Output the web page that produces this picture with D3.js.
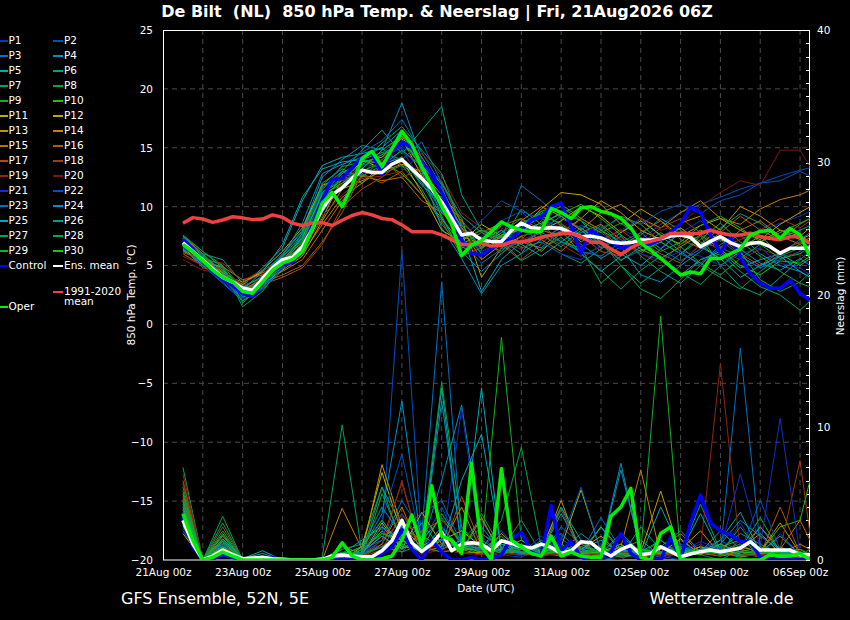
<!DOCTYPE html>
<html>
<head>
<meta charset="utf-8">
<script src="https://cdn.jsdelivr.net/npm/d3@7"></script>
<style>
  body { margin: 0; background: #000; }
  svg { display: block; font-family: "DejaVu Sans", sans-serif; }
  .pre { white-space: pre; }
</style>
</head>
<body>
<svg id="chart" width="850" height="620"></svg>
<script>
// forecast run: first step is 21Aug 12Z, 6-hourly to 06Sep 06Z
const HOUR = 3600e3;
const runStart = Date.UTC(2026, 7, 21, 12);
const axisStart = new Date(Date.UTC(2026, 7, 21, 0));
const axisEnd = new Date(Date.UTC(2026, 8, 6, 6));

const tempTicks = [-20, -15, -10, -5, 0, 5, 10, 15, 20, 25];
const precipTicks = [0, 10, 20, 30, 40];
const dateTickDays = [0, 2, 4, 6, 8, 10, 12, 14, 16];
const dateTickLabels = ["21Aug 00z", "23Aug 00z", "25Aug 00z", "27Aug 00z", "29Aug 00z",
  "31Aug 00z", "02Sep 00z", "04Sep 00z", "06Sep 00z"];

// hours after runStart for the 6-hourly series and for the 12-hourly members
const stepHours = d3.range(64).map(i => i * 6);
const memberHours = d3.range(0, 373, 12).concat([378]);

// 850 hPa temperature (°C), 6-hourly
const controlTemp = [7.2,6.4,5.4,4.5,3.8,3.3,2.6,2.4,3.5,4.5, 5.05,5.3,6.3,8.4,10.6,12.3,12.4,13.3,14.2,14.5, 12.8,14.7,
  15.5,15.0,13.8,12.8,11.2,9.4,7.15,6.04,5.9,6.46, 6.9,7.3,8.0,8.87,9.15,10.0,10.3,8.3,6.05,8.0,
  7.4,7.0,6.5,6.6,6.83,6.83,7.2,7.85,8.55,10.0, 9.5,7.6,6.1,7.4,5.7,4.3,3.5,3.07,3.07,3.77, 2.64,2.08];
const meanTemp = [6.94,6.2,5.47,4.7,4.0,3.6,3.1,2.9,3.9,4.8, 5.5,5.7,6.6,8.1,9.8,11.0,11.6,12.4,13.1,12.9, 12.9,13.6,
  14.0,13.2,12.4,11.5,10.4,9.0,7.6,7.75,7.17,7.03, 7.03,8.0,8.6,8.2,8.15,8.2,8.16,7.75,7.45,7.5,
  7.35,7.0,6.9,6.95,7.17,7.17,7.3,7.5,7.6,7.4, 6.6,7.05,7.45,6.95,6.6,6.9,6.95,6.6,6.04,6.46, 6.46,6.46];
const operTemp = [6.8,6.2,5.4,4.6,4.0,3.6,2.8,2.65,3.6,4.6, 5.2,5.5,6.2,8.1,10.3,11.2,10.0,11.8,14.1,14.7, 13.4,14.9,
  16.4,15.3,13.4,11.8,10.0,8.5,5.85,6.75,7.1,7.9, 8.7,8.3,8.0,7.9,7.9,9.85,9.5,9.0,9.9,10.0,
  9.6,9.4,9.0,8.2,6.9,6.3,5.6,4.9,4.2,4.45, 4.3,5.6,5.6,6.0,6.4,7.6,7.9,8.0,7.3,8.16, 7.6,5.75];
const climTemp = [8.6,9.07,8.95,8.67,8.87,9.15,9.05,8.9,8.95,9.3, 9.1,8.6,8.4,8.62,8.64,8.4,8.85,9.25,9.5,9.3,
  9.0,8.9,8.45,7.88,7.88,7.88,7.6,7.2,6.8,6.75, 6.88,6.65,6.72,7.0,7.03,7.15,7.4,7.58,7.72,7.74,
  7.45,7.0,6.95,6.4,5.95,6.5,6.9,7.05,7.3,7.72, 7.74,7.7,7.74,8.0,7.76,7.6,7.6,7.74,7.48,7.3, 7.2,7.45,7.45,6.9];

// precipitation (mm), 6-hourly
const controlPrecip = [3.2,1.0,0,0.1,0.4,0.2,0,0,0.1,0.2, 0,0,0,0,0,0,0,0,0,0, 0.5,1.0,
  2.3,0.8,0,1.5,0.6,0,0,0.2,0,0.1, 0.4,1.6,2.1,0.6,0.3,4.1,0.7,1.4,0.2,0,
  0.2,0.6,2.0,0.5,0,0,0,1.7,0.1,2.8, 4.9,2.8,2.2,1.9,1.4,1.4,0.2,0,0,0, 0,0];
const meanPrecip = [3.0,1.2,0,0.3,0.75,0.4,0.1,0.15,0.2,0.1,0.05,0,0,0,
  0.05,0.3,0.38,0.3,0.25,0.25,0.7,1.45,3.0,1.3, 0.65,1.2,2.1,0.7,1.2,1.3,1.2,0.7,1.45,1.25,
  1.0,0.9,1.2,0.95,0.5,0.7,1.38,1.3,0.7,0.3, 0.8,1.1,0.4,0.5,1.0,0.65,0.25,0.45,0.63,0.75,
  0.63,0.75,0.9,1.38,0.75,0.75,0.75,0.75,0.4,0.4];
const operPrecip = [3.5,1.5,0,0.2,0.6,0.3,0,0,0,0, 0,0,0,0,0,0.2,1.3,0.3,0,0, 0.1,0.3,
  1.5,3.4,1.0,5.6,1.8,1.5,0.5,7.3,1.0,0, 6.9,1.5,1.0,0.5,0.3,1.8,0.3,0.6,0.3,0.2,
  0.2,3.3,4.0,5.4,0.2,0,2.0,2.5,0,0, 0,0,0,0,0,0,0,0.4,0.3,0.3, 0.5,0];

// perturbed members P1..P30, 12-hourly plus a last 6-hour step
const memberTemp = [
  [7.2,5.8,4.3,2.8,3.9,5.6,7.5,11.5,12.8,13.5,14.2,15.0,13.0,10.5,7.0,6.5,7.8,8.5,9.0,8.2,7.4,7.0,8.1,7.3,6.5,7.8,8.8,7.5,6.8,7.9,8.6,9.2,9.6],
  [6.8,5.2,3.8,2.2,3.5,5.0,6.5,10.0,12.0,12.8,14.5,16.2,13.5,9.8,6.8,7.5,8.8,9.6,8.0,7.6,8.4,7.8,6.5,7.2,8.5,9.5,10.2,10.8,11.5,12.0,12.6,13.1,13.3],
  [6.5,5.0,3.5,2.0,3.2,4.8,6.2,9.5,11.8,13.2,13.0,14.0,15.5,12.0,8.5,6.0,7.2,11.8,10.5,9.0,8.2,6.8,5.5,6.3,7.0,6.0,5.2,6.5,5.8,4.8,5.5,6.2,6.8],
  [7.0,5.6,4.0,2.5,4.2,6.0,8.0,12.5,14.0,15.2,14.8,18.8,14.0,9.0,6.2,4.5,6.0,7.5,8.0,9.2,8.0,6.5,7.8,9.0,7.5,6.2,5.0,6.8,7.6,6.0,5.0,4.5,4.0],
  [6.6,5.4,4.5,3.3,4.8,6.5,10.5,13.5,14.2,14.5,15.0,13.5,12.5,9.5,7.8,2.8,5.5,7.0,6.5,8.0,6.0,4.5,5.8,7.0,5.5,4.2,5.5,6.2,4.8,5.5,6.0,5.0,5.6],
  [7.4,6.0,5.5,3.5,4.5,5.8,7.2,10.8,13.0,14.8,16.5,14.5,16.5,18.5,11.0,8.0,7.2,6.0,8.5,9.5,8.8,7.0,5.0,3.5,4.8,6.0,7.5,5.0,3.2,2.5,4.0,5.5,6.2],
  [7.6,6.2,5.0,3.0,3.6,5.2,6.8,11.0,12.5,13.0,12.8,13.5,11.5,8.5,6.5,7.2,8.0,6.5,7.0,6.0,5.2,6.4,7.5,5.8,4.5,3.5,5.0,4.0,3.0,4.5,5.8,6.5,7.0],
  [6.2,5.5,4.8,1.5,2.8,5.0,7.8,12.0,13.2,12.5,14.0,15.5,13.8,11.5,8.0,6.0,7.0,9.8,8.5,7.0,6.5,3.5,5.0,3.0,2.2,3.8,5.5,6.0,4.5,3.2,2.5,1.2,2.0],
  [7.3,5.9,4.0,2.0,3.0,4.6,7.0,10.2,12.6,12.0,13.2,14.2,12.0,10.8,8.8,7.0,6.2,8.0,9.2,8.6,7.0,8.0,9.2,8.5,7.0,6.0,7.2,8.6,7.0,5.8,4.5,3.5,3.2],
  [6.9,5.7,4.6,3.2,4.0,5.4,6.6,11.2,12.2,13.0,13.8,12.8,11.0,9.0,6.8,7.8,8.6,7.8,9.6,10.2,9.0,8.0,7.0,6.2,7.0,8.2,6.8,5.5,6.5,7.5,6.0,6.8,6.0],
  [6.4,5.3,4.4,3.4,4.6,6.2,8.2,11.8,12.5,14.0,13.2,14.0,11.2,8.0,7.0,8.5,7.5,6.8,8.0,8.8,10.0,9.2,7.8,8.8,7.6,6.8,8.0,7.2,6.5,7.0,8.0,7.2,7.6],
  [7.1,5.5,4.2,3.6,4.4,5.0,6.4,9.0,12.4,13.8,14.2,15.8,12.6,10.0,7.5,6.8,7.4,8.2,9.8,11.2,11.0,10.2,8.5,9.8,8.8,7.5,8.4,9.0,8.0,7.2,8.5,9.5,10.0],
  [6.7,5.0,3.9,2.6,3.4,4.6,5.8,8.8,11.5,12.2,13.0,13.6,13.0,11.0,9.0,4.0,6.5,7.5,6.2,7.8,9.0,10.5,9.5,8.0,7.2,8.6,9.2,8.0,10.0,9.2,8.0,7.5,8.2],
  [6.3,5.2,4.9,3.8,4.2,5.2,6.0,8.5,10.8,12.0,13.5,16.0,14.2,11.5,8.2,5.5,6.8,8.8,10.0,9.2,8.0,9.5,10.2,9.0,8.2,9.5,10.5,9.0,8.5,9.8,10.6,11.0,11.4],
  [7.5,6.0,4.4,3.0,3.8,4.5,5.5,8.0,10.5,12.6,12.2,12.5,10.5,9.5,8.2,6.5,7.6,8.0,7.2,6.2,7.8,8.5,7.2,6.0,7.5,8.2,7.0,6.5,8.0,8.8,7.5,6.8,7.4],
  [6.0,5.0,4.0,2.9,3.6,4.2,5.0,7.0,9.5,12.8,12.0,13.0,11.0,8.8,5.8,6.5,8.4,9.0,8.0,7.5,9.0,8.0,6.5,7.8,8.8,7.2,6.5,7.8,9.2,8.0,7.2,8.5,9.0],
  [6.5,4.8,4.5,3.1,3.4,4.0,4.8,6.8,10.0,11.5,12.5,13.8,12.8,10.6,7.2,8.0,7.0,5.5,6.8,8.5,7.6,6.2,5.8,7.0,6.0,5.2,6.8,7.4,6.0,5.0,6.2,7.0,6.5],
  [6.1,5.5,5.2,3.7,4.6,5.4,7.0,10.5,11.8,13.5,14.0,12.5,13.2,12.2,8.6,7.2,6.0,7.2,8.8,7.8,6.6,7.2,8.0,6.8,8.2,9.0,7.8,6.5,7.2,8.0,9.0,8.2,8.8],
  [5.8,5.0,4.7,3.3,4.0,5.0,6.0,9.2,11.0,12.4,12.6,13.0,14.5,12.6,9.5,8.2,7.0,6.4,7.6,6.8,5.8,6.6,7.4,6.0,5.2,6.8,7.5,6.2,5.5,6.4,5.8,6.0,5.4],
  [5.5,4.6,4.3,3.5,4.3,5.6,7.4,10.6,12.2,13.2,13.0,14.8,13.5,10.2,6.5,7.8,8.2,7.2,7.8,8.6,7.4,6.8,8.0,9.0,8.0,8.5,10.0,11.2,12.2,11.8,14.8,14.8,13.4],
  [7.0,5.3,3.7,2.4,3.3,5.5,7.2,11.0,12.9,13.4,14.6,15.2,13.6,11.2,8.0,6.2,7.0,8.2,7.0,6.0,5.5,6.8,7.2,6.0,5.5,6.2,5.8,5.0,6.0,6.5,5.2,4.8,4.2],
  [6.6,5.1,3.6,2.1,3.0,4.8,6.8,10.8,12.0,13.6,13.4,14.8,12.2,9.6,7.4,8.8,10.5,9.6,9.0,8.0,7.8,8.2,9.0,8.5,9.6,10.2,9.4,10.5,11.0,12.0,12.2,13.0,12.6],
  [7.3,5.5,4.1,2.7,3.7,5.3,7.6,11.4,13.5,14.6,15.6,17.4,14.6,11.8,7.0,5.2,6.4,7.0,7.8,7.0,6.2,5.8,7.0,7.8,6.4,5.4,6.4,7.2,5.8,4.8,6.0,7.2,7.8],
  [6.4,5.0,4.2,2.5,3.9,5.8,8.6,12.8,13.6,14.2,15.0,16.5,13.0,8.2,5.6,2.6,5.0,6.0,7.2,8.2,6.8,5.6,6.6,4.2,3.6,5.0,6.2,7.6,6.4,5.2,4.6,5.6,5.0],
  [6.8,5.3,4.4,2.9,4.5,6.8,10.8,13.2,13.8,14.0,13.6,14.2,11.8,10.4,8.4,6.6,8.0,6.8,5.8,7.0,8.2,7.0,6.0,5.0,6.4,7.8,6.6,5.6,4.0,5.0,5.8,4.5,4.0],
  [7.2,5.8,4.6,3.1,4.1,5.9,7.9,11.6,13.0,12.6,13.5,14.8,13.4,12.0,9.2,7.8,7.0,8.4,9.6,8.4,7.2,8.4,6.8,7.6,9.0,8.0,6.8,8.2,9.4,8.6,7.4,8.0,8.4],
  [7.5,6.2,4.8,2.3,3.1,5.1,7.3,11.2,12.8,14.0,14.6,14.0,12.0,9.2,6.0,7.4,6.8,5.4,6.4,7.4,6.0,4.6,3.0,4.6,5.8,4.4,3.4,5.0,6.2,3.8,2.8,3.6,4.4],
  [6.9,5.7,5.0,1.8,3.5,5.7,7.7,11.8,13.4,13.8,15.4,16.8,14.8,12.8,8.4,6.4,7.8,9.0,7.6,6.6,8.0,6.8,5.4,6.6,7.8,6.6,5.2,4.2,5.6,6.8,5.6,6.0,6.6],
  [6.7,5.4,3.8,2.4,3.3,5.2,7.1,10.6,12.4,13.6,14.4,15.6,13.4,10.2,7.2,8.0,7.4,8.6,9.4,10.0,8.8,7.8,8.6,7.4,6.2,7.0,8.4,9.2,8.2,7.0,7.8,8.6,9.0],
  [7.0,5.6,4.3,2.6,3.6,5.4,7.4,11.0,12.0,13.2,14.8,16.0,13.2,10.0,6.6,5.8,7.6,8.0,8.6,9.4,10.2,9.0,7.6,6.4,5.6,6.6,7.6,6.4,5.0,4.2,5.4,5.2,5.8]
];
const memberPrecip = [
  [3.0,0,0.5,0,0.1,0,0,0,0,0.2,1.5,3.0,0.8,2.5,0.6,1.8,0.4,0.2,1.0,0.5,0.8,0,0.3,0.5,0,0.6,1.2,0.4,2.8,0.5,0.3,0,0.2],
  [2.5,0,0.8,0,0,0,0,0,0,0.3,2.0,23.4,1.2,4.0,0.8,1.0,2.2,0.5,0.4,1.6,0.6,0.2,0,1.0,0.3,0,0.8,1.5,0.6,0.2,2.0,0.4,0.3],
  [2.2,0,0.6,0.1,0,0,0,0,0.2,0.5,1.2,4.5,2.0,21.0,1.5,3.0,0.6,0.8,0.3,2.5,1.2,0.5,1.8,0.6,0.2,1.5,0.4,0,0.8,0.3,0.5,0.2,0.4],
  [3.5,0,1.0,0,0.2,0,0,0,0,0.8,3.5,12.0,1.0,6.0,11.7,2.0,1.0,0.4,1.5,0.6,2.0,0.8,7.3,0.5,1.0,2.2,0.6,0.8,2.0,1.2,0.4,0.6,0.5],
  [2.8,0,1.2,0.1,0.7,0,0,0,0,0.4,2.5,1.5,0.6,13.0,0.8,13.0,0.5,1.2,0.6,3.5,0.8,1.5,0.5,0.3,4.0,0.8,0.5,1.5,3.6,0.6,1.8,0.4,0.3],
  [4.5,0,2.0,0,0,0,0,0,0.8,1.2,5.5,2.5,1.5,3.2,1.2,0.5,2.0,0.6,1.0,4.0,1.5,0.4,0.3,2.5,0.8,0.4,1.0,0.6,0.2,0.5,0.3,0.2,0.2],
  [3.2,0,1.5,0,0,0,0,0.2,10.2,0.5,1.0,2.0,0.8,1.5,1.0,0.4,0.8,3.0,0.5,0.3,1.0,0.6,0.2,0.4,1.5,0.3,0.6,0.8,0.4,0.5,1.0,0.3,0.5],
  [7.0,0,3.3,0,0,0,0,0,0,0.3,1.0,0.6,1.2,13.4,2.5,0.8,3.0,8.5,1.0,0.6,1.4,0.3,0.8,1.5,0.3,0.5,4.2,0.7,1.2,0.4,0.2,0.4,0.8],
  [5.5,0,2.2,0,0,0,0,0,0.5,0.2,5.0,1.5,0.5,2.0,0.8,0.8,16.8,1.5,0.4,0.8,0.5,1.0,0.3,0.6,18.4,0.4,1.0,0.5,0.8,3.2,0.6,0.3,0.2],
  [3.8,0,1.4,0,0.2,0,0,0,0,0.6,2.2,1.0,0.8,3.5,1.2,0.8,1.8,0.4,0.8,1.2,0.4,2.5,0.6,0.4,0.6,0.3,0.8,1.0,1.5,0.6,2.5,3.0,6.0],
  [2.6,0,0.5,0,0,0,0,0,0,1.0,6.6,2.0,0.6,1.5,2.2,1.0,0.5,0.6,0.6,1.0,5.3,0.6,1.2,0.2,0.5,1.6,0.4,1.0,0.3,0.4,0.2,0.3,0.4],
  [2.0,0,0.7,0,0,0,0,0,0,0.4,2.8,0.8,3.6,1.2,0.5,0.6,1.5,0.4,0.8,0.6,0.8,1.8,0.4,0.6,5.2,0.5,1.0,0.6,0.8,2.0,0.5,0.6,0.3],
  [3.4,0,0.9,0,0,0,0,0,0.3,0.6,7.2,2.5,1.0,2.0,0.6,3.2,0.4,1.0,0.6,4.5,0.5,0.3,0.8,0.5,0.4,0.8,2.2,0.4,1.0,0.6,2.8,0.5,0.4],
  [4.0,0,1.8,0.1,0,0,0,0,3.9,0.8,2.0,1.5,0.6,1.0,4.0,0.6,1.2,0.5,0.3,0.8,0.6,0.4,1.0,6.8,0.3,0.6,0.5,0.8,0.4,0.3,0.5,1.2,0.8],
  [5.0,0,1.0,0,0,0,0,0,0.4,0.2,1.2,4.0,0.5,1.5,0.8,0.4,2.0,0.6,0.5,0.4,1.2,0.5,0.3,0.4,0.8,2.0,0.5,0.3,0.5,2.5,0.8,3.0,1.5],
  [4.8,0,1.6,0,0,0,0,0,0.2,0.6,1.8,0.6,2.2,3.0,1.5,0.8,0.3,1.2,0.4,0.6,0.5,0.8,0.5,0.3,1.0,0.4,0.6,0.5,0.3,0.4,4.0,0.5,0.6],
  [6.0,0,2.5,0,0,0,0,0,0.3,0.2,0.8,3.5,1.0,0.6,4.8,1.0,0.5,0.4,0.8,0.5,0.6,0.3,0.8,0.4,0.6,0.3,0.5,1.2,0.4,0.3,0.6,0.8,0.5],
  [5.8,0,1.2,0,0,0,0,0,0,0.4,1.5,5.8,0.8,1.2,0.6,2.0,0.8,0.5,0.6,3.8,0.4,0.6,0.3,0.8,0.5,0.4,0.6,0.3,1.5,0.4,0.8,7.5,2.0],
  [6.5,0,0.8,0,0,0,0,0,0,0.3,1.0,6.0,0.6,0.8,1.5,0.6,0.4,1.0,0.3,0.5,0.8,0.4,0.6,0.3,0.4,0.5,0.8,14.8,0.6,0.4,0.5,0.3,0.4],
  [3.0,0,0.6,0,0,0,0,0,0,0.2,0.6,1.2,0.4,0.8,0.5,0.4,0.6,0.3,0.5,0.4,0.3,0.5,0.4,0.6,0.3,0.4,0.5,0.6,0.4,0.3,0.6,0.8,0.5],
  [2.4,0,0.4,0,0,0.2,0,0,0,0.4,2.0,3.5,1.5,0.8,11.4,0.6,0.8,0.5,1.8,0.6,1.0,0.4,0.6,1.0,0.5,0.6,1.4,0.8,6.5,1.0,10.7,0.4,0.3],
  [2.8,0,0.6,0,0,0.1,0,0,0,0.6,3.0,8.0,1.0,1.5,0.8,1.2,0.6,0.4,0.8,1.5,5.5,0.6,0.8,0.4,0.6,1.2,0.5,1.0,0.6,4.5,0.8,0.6,0.4],
  [3.6,0,1.0,0,0.3,0,0,0,0,0.8,1.5,2.5,3.5,4.5,1.2,0.8,1.5,0.6,1.2,0.8,0.6,3.2,0.8,0.6,0.5,1.0,0.6,0.5,16.0,1.0,0.6,0.4,0.5],
  [3.0,0,1.3,0,0,0,0,0,0.4,1.0,4.0,1.8,0.6,12.0,1.0,2.5,0.6,1.0,0.8,2.0,0.5,0.8,6.8,0.8,0.6,0.5,0.8,1.2,3.0,1.8,0.8,0.6,0.4],
  [4.2,0,1.6,0.1,0.5,0,0,0,0.3,0.6,1.8,0.8,1.8,1.0,6.0,9.5,0.8,0.5,0.6,1.0,0.6,2.5,0.8,0.5,0.8,0.6,3.5,0.5,0.8,2.5,0.6,0.5,0.3],
  [3.8,0,1.1,0,0,0,0,0,0.5,1.5,2.5,1.0,2.8,0.8,1.5,0.6,1.2,0.8,0.5,4.0,0.8,0.5,2.0,0.6,0.5,0.8,0.6,2.2,0.8,0.5,0.6,0.4,0.3],
  [4.6,0,2.8,0,0,0,0,0,1.0,0.5,5.5,1.2,0.6,2.5,0.8,1.5,0.6,1.2,0.5,0.6,0.8,0.4,0.6,0.8,0.5,1.0,0.5,0.6,0.4,0.8,0.5,0.3,0.4],
  [5.2,0,1.9,0,0,0,0,0,0.6,0.4,1.0,2.0,0.8,1.6,0.6,3.5,0.8,0.6,0.4,0.8,1.0,0.6,0.4,0.6,1.5,0.4,0.6,0.5,2.5,0.6,0.4,0.6,0.3],
  [4.4,0,1.4,0,0,0,0,0,0.2,0.8,2.0,1.5,1.0,0.6,0.8,1.0,0.5,0.8,0.6,0.5,0.6,0.8,0.5,0.4,0.6,0.5,0.8,0.4,0.6,1.0,0.5,0.4,0.3],
  [3.3,0,1.0,0,0,0,0,0,0.4,1.0,3.0,1.0,0.8,2.0,1.0,0.6,0.8,1.5,0.6,0.8,0.5,0.6,1.0,0.8,0.5,0.6,0.4,1.2,0.6,0.5,0.6,0.8,0.4]
];
const memberColors = [
  "#1030c8", "#0050c0", "#0070c0", "#0090c0", "#00a8b4", "#00a088", "#00a060", "#00a844", "#10b020", "#20c010",
  "#b4b400", "#c0a400", "#c09400", "#c08000", "#c06c00", "#b45a00", "#b04a10", "#a03a10", "#902414", "#801414",
  "#1030c8", "#0050c0", "#0070c0", "#0090c0", "#00a8b4", "#00a088", "#00a060", "#00a844", "#10b020", "#20c010"
];
const controlColor = "#0000ff";
const meanColor = "#ffffff";
const operColor = "#00ee00";
const climColor = "#f04040";

let svg = d3.select("#chart");
let x = d3.scaleUtc().domain([axisStart, axisEnd]).range([163, 810]);
let yT = d3.scaleLinear().domain([-20, 25]).range([560, 30]);
let yP = d3.scaleLinear().domain([0, 40]).range([560, 30]);

function stepTime(h) { return new Date(runStart + h * HOUR); }

// line generator for a series against its own list of hours
function seriesLine(hours, y) {
  return d3.line().x((d, i) => x(stepTime(hours[i]))).y(d => y(d));
}

svg.append("rect").attr("width", 850).attr("height", 620).attr("fill", "#000");

svg.append("defs").append("clipPath").attr("id", "plot-clip")
  .append("rect").attr("x", 163).attr("y", 30).attr("width", 647).attr("height", 530);

// dashed grid
let grid = svg.append("g").attr("stroke", "#4a4a4a").attr("stroke-dasharray", "5,4");
grid.selectAll("line.gx")
  .data(d3.utcDay.range(d3.utcDay.offset(axisStart, 1), axisEnd))
  .join("line").attr("class", "gx")
  .attr("x1", d => x(d)).attr("x2", d => x(d))
  .attr("y1", 30).attr("y2", 560);
grid.selectAll("line.gy")
  .data(tempTicks.slice(1, -1))
  .join("line").attr("class", "gy")
  .attr("x1", 163).attr("x2", 810)
  .attr("y1", d => yT(d)).attr("y2", d => yT(d));

// frame
svg.append("rect").attr("x", 163.5).attr("y", 30.5).attr("width", 646).attr("height", 529.5)
  .attr("fill", "none").attr("stroke", "#fff").attr("stroke-width", 1);

// axes
let gl = svg.append("g").attr("transform", "translate(163,0)")
  .call(d3.axisLeft(yT).tickValues(tempTicks).tickSize(0).tickPadding(10));
let gr = svg.append("g").attr("transform", "translate(810,0)")
  .call(d3.axisRight(yP).tickValues(precipTicks).tickSize(0).tickPadding(7));
let gb = svg.append("g").attr("transform", "translate(0,560)")
  .call(d3.axisBottom(x)
    .tickValues(dateTickDays.map(d => d3.utcDay.offset(axisStart, d)))
    .tickFormat((d, i) => dateTickLabels[i])
    .tickSize(0).tickPadding(9));
for (let g of [gl, gr, gb]) {
  g.select(".domain").remove();
  g.attr("font-family", null).attr("font-size", null);
  g.selectAll("text").attr("fill", "#fff").style("font-size", "10.5px");
}
// minor precipitation ticks, pointing into the plot
svg.append("g").selectAll("line")
  .data(d3.range(0, 41))
  .join("line")
  .attr("x1", 806).attr("x2", 810)
  .attr("y1", d => Math.round(yP(d)) + 0.5).attr("y2", d => Math.round(yP(d)) + 0.5)
  .attr("stroke", "#fff");

// series
let plot = svg.append("g").attr("clip-path", "url(#plot-clip)").attr("fill", "none");
let memberT = seriesLine(memberHours, yT), memberP = seriesLine(memberHours, yP);
let stepT = seriesLine(stepHours, yT), stepP = seriesLine(stepHours, yP);

memberTemp.forEach((vals, m) => {
  plot.append("path").attr("d", memberT(vals))
    .attr("stroke", memberColors[m]).attr("stroke-width", 1);
});
memberPrecip.forEach((vals, m) => {
  plot.append("path").attr("d", memberP(vals))
    .attr("stroke", memberColors[m]).attr("stroke-width", 1);
});

let thick = [
  [controlTemp, stepT, controlColor], [controlPrecip, stepP, controlColor],
  [meanTemp, stepT, meanColor], [meanPrecip, stepP, meanColor],
  [climTemp, stepT, climColor],
  [operTemp, stepT, operColor], [operPrecip, stepP, operColor]
];
for (let t of thick) {
  plot.append("path").attr("d", t[1](t[0]))
    .attr("stroke", t[2]).attr("stroke-width", 3.5)
    .attr("stroke-linejoin", "round");
}

// legend
let legend = svg.append("g").attr("font-size", "10.5px").attr("fill", "#fff");
function legendItem(lx, ly, len, color, label, tx) {
  legend.append("line").attr("x1", lx).attr("x2", lx + len)
    .attr("y1", ly).attr("y2", ly).attr("stroke", color).attr("stroke-width", 2);
  legend.append("text").attr("x", tx).attr("y", ly + 2.5).text(label);
}
memberColors.forEach((c, m) => {
  let col = m % 2, row = Math.floor(m / 2), ly = 41 + row * 15;
  if (col == 0) legendItem(0, ly, 8, c, "P" + (m + 1), 8.5);
  else legendItem(53, ly, 10, c, "P" + (m + 1), 64);
});
legendItem(0, 266, 8, controlColor, "Control", 8.5);
legendItem(53, 266, 10, meanColor, "Ens. mean", 64);
legendItem(53, 292, 10, climColor, "1991-2020", 64);
legend.append("text").attr("x", 64).attr("y", 305).text("mean");
legendItem(0, 307, 8, operColor, "Oper", 8.5);

// titles
svg.append("text").attr("class", "pre")
  .attr("x", 437).attr("y", 17).attr("text-anchor", "middle")
  .attr("font-weight", "bold").attr("font-size", "16px").attr("fill", "#fff")
  .text("De Bilt  (NL)  850 hPa Temp. & Neerslag | Fri, 21Aug2026 06Z");
svg.append("text")
  .attr("transform", "translate(135,295) rotate(-90)").attr("text-anchor", "middle")
  .attr("font-size", "10.5px").attr("fill", "#fff")
  .text("850 hPa Temp. (°C)");
svg.append("text")
  .attr("transform", "translate(843.5,296) rotate(-90)").attr("text-anchor", "middle")
  .attr("font-size", "10.5px").attr("fill", "#fff")
  .text("Neerslag (mm)");
svg.append("text")
  .attr("x", 486).attr("y", 592).attr("text-anchor", "middle")
  .attr("font-size", "10.5px").attr("fill", "#fff")
  .text("Date (UTC)");
svg.append("text")
  .attr("x", 121).attr("y", 603.5)
  .attr("font-size", "16px").attr("fill", "#fff")
  .text("GFS Ensemble, 52N, 5E");
svg.append("text")
  .attr("x", 793.5).attr("y", 603.5).attr("text-anchor", "end")
  .attr("font-size", "16px").attr("fill", "#fff")
  .text("Wetterzentrale.de");
</script>
</body>
</html>
